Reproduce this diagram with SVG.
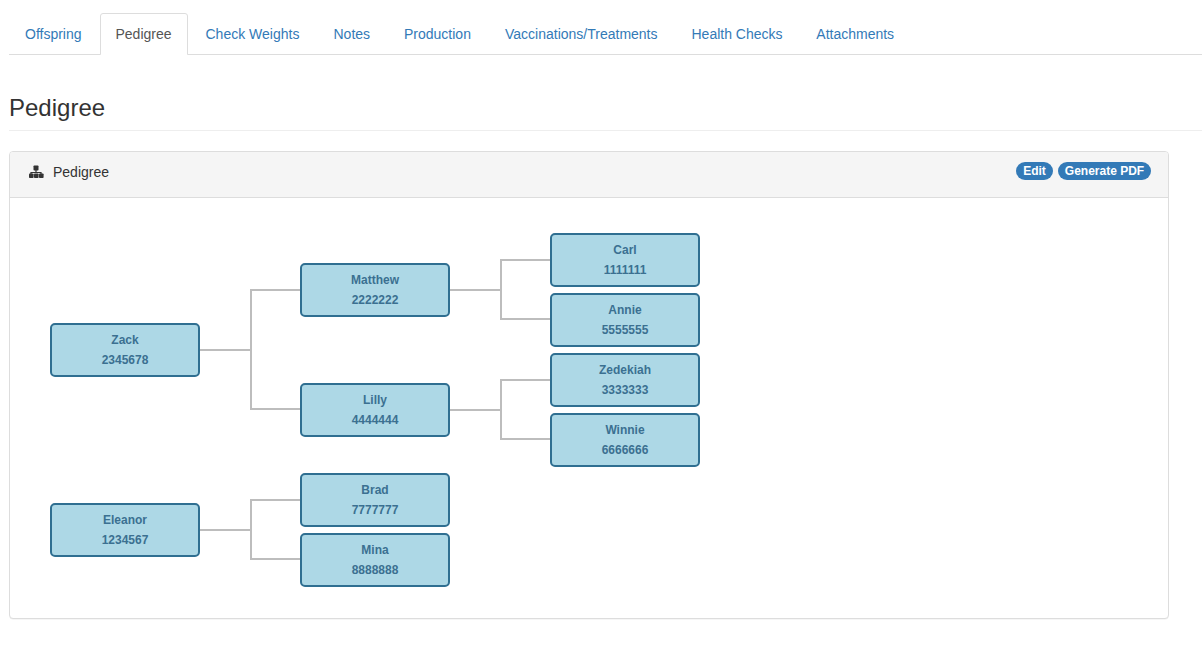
<svg xmlns="http://www.w3.org/2000/svg" width="1202" height="648" viewBox="0 0 1202 648">
<style>
text{font-family:"Liberation Sans",Arial,sans-serif}
.tab{font-size:14px;fill:#337ab7}
.n rect{fill:#add8e6;stroke:#2f6f91;stroke-width:2}
.n text{font-size:12px;font-weight:bold;fill:#3b7091;text-anchor:middle}
.c{fill:none;stroke:#bdbdbd;stroke-width:2}
.b{fill:#337ab7}
.bt{font-size:12px;font-weight:bold;fill:#fff;text-anchor:middle}
</style>
<rect width="1202" height="648" fill="#fff"/>
<g id="tabs">
<path d="M9 54.500H100.500V16a2.500 2.500 0 0 1 2.500-2.500H185a2.500 2.500 0 0 1 2.500 2.500V54.500H1202" fill="none" stroke="#ddd"/>
<path d="M101 54.500H187" stroke="#fff" stroke-width="0"/>
<text class="tab" x="25" y="39">Offspring</text>
<text x="115.500" y="39" font-size="14" fill="#555">Pedigree</text>
<text class="tab" x="205.500" y="39">Check Weights</text>
<text class="tab" x="333.500" y="39">Notes</text>
<text class="tab" x="404" y="39">Production</text>
<text class="tab" x="505" y="39">Vaccinations/Treatments</text>
<text class="tab" x="691.500" y="39">Health Checks</text>
<text class="tab" x="816.300" y="39">Attachments</text>
</g>
<g id="heading">
<text x="9" y="116" font-size="24" fill="#333">Pedigree</text>
<path d="M9 130.500H1202" stroke="#eee"/>
</g>
<g id="panel">
<rect x="9.500" y="152.500" width="1159" height="467" rx="3.500" fill="#eee"/>
<rect x="9.500" y="151.500" width="1159" height="467" rx="3.500" fill="#fff" stroke="#ddd"/>
<path d="M10 197.500V155a3 3 0 0 1 3-3H1165a3 3 0 0 1 3 3V197.500Z" fill="#f5f5f5"/>
<path d="M10 197.500H1168" stroke="#ddd"/>
<g id="panel-icon" fill="#333">
<rect x="33.500" y="165.500" width="5" height="5" rx=".8"/>
<path d="M36 170V173M31 174.500V172.500H41V174.500" fill="none" stroke="#333" stroke-width="1.200"/>
<rect x="29" y="173.500" width="4.600" height="4.500" rx=".8"/>
<rect x="34" y="173.500" width="4.600" height="4.500" rx=".8"/>
<rect x="39" y="173.500" width="4.600" height="4.500" rx=".8"/>
</g>
<text x="53" y="177" font-size="14" fill="#333">Pedigree</text>
<g id="btn-edit"><rect class="b" x="1016" y="162" width="37" height="18" rx="9"/><text class="bt" x="1034.500" y="175">Edit</text></g>
<g id="btn-pdf"><rect class="b" x="1058" y="162" width="93" height="18" rx="9"/><text class="bt" x="1104.500" y="175">Generate PDF</text></g>
</g>
<g id="connectors">
<path class="c" d="M200 350H251M301 290H251V409H301"/>
<path class="c" d="M450 290H501M551 260H501V319H551"/>
<path class="c" d="M450 410H501M551 380H501V439H551"/>
<path class="c" d="M200 530H251M301 500H251V559H301"/>
</g>
<g id="zack" class="n"><rect x="51" y="324" width="148" height="52" rx="4"/><text x="125" y="344">Zack</text><text x="125" y="364">2345678</text></g>
<g id="matthew" class="n"><rect x="301" y="264" width="148" height="52" rx="4"/><text x="375" y="284">Matthew</text><text x="375" y="304">2222222</text></g>
<g id="lilly" class="n"><rect x="301" y="384" width="148" height="52" rx="4"/><text x="375" y="404">Lilly</text><text x="375" y="424">4444444</text></g>
<g id="carl" class="n"><rect x="551" y="234" width="148" height="52" rx="4"/><text x="625" y="254">Carl</text><text x="625" y="274">1111111</text></g>
<g id="annie" class="n"><rect x="551" y="294" width="148" height="52" rx="4"/><text x="625" y="314">Annie</text><text x="625" y="334">5555555</text></g>
<g id="zedekiah" class="n"><rect x="551" y="354" width="148" height="52" rx="4"/><text x="625" y="374">Zedekiah</text><text x="625" y="394">3333333</text></g>
<g id="winnie" class="n"><rect x="551" y="414" width="148" height="52" rx="4"/><text x="625" y="434">Winnie</text><text x="625" y="454">6666666</text></g>
<g id="eleanor" class="n"><rect x="51" y="504" width="148" height="52" rx="4"/><text x="125" y="524">Eleanor</text><text x="125" y="544">1234567</text></g>
<g id="brad" class="n"><rect x="301" y="474" width="148" height="52" rx="4"/><text x="375" y="494">Brad</text><text x="375" y="514">7777777</text></g>
<g id="mina" class="n"><rect x="301" y="534" width="148" height="52" rx="4"/><text x="375" y="554">Mina</text><text x="375" y="574">8888888</text></g>
</svg>
